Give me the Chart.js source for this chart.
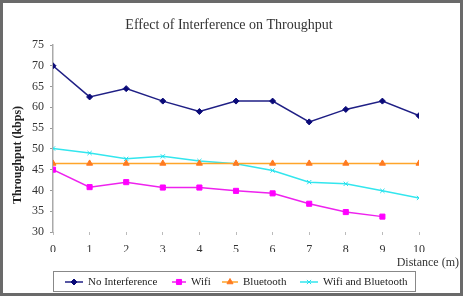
<!DOCTYPE html>
<html>
<head>
<meta charset="utf-8">
<script src="https://cdn.jsdelivr.net/npm/chart.js@4/dist/chart.umd.min.js"></script>
<style>
html,body{margin:0;padding:0;background:#fff;}
#wrap{width:463px;height:296px;position:relative;}
</style>
</head>
<body>
<div id="wrap"><canvas id="c" width="463" height="296"></canvas></div>
<script>
const chartTitle = "Effect of Interference on Throughput";
const xTitle = "Distance (m)";
const yTitle = "Throughput (kbps)";
const distances = [0, 1, 2, 3, 4, 5, 6, 7, 8, 9, 10];
const noInterference = [70, 62.5, 64.5, 61.5, 59, 61.5, 61.5, 56.5, 59.5, 61.5, 58];
const wifi = [45, 40.8, 42, 40.7, 40.7, 39.9, 39.3, 36.8, 34.8, 33.7];
const bluetooth = [46.5, 46.5, 46.5, 46.5, 46.5, 46.5, 46.5, 46.5, 46.5, 46.5, 46.5];
const wifiBluetooth = [50.1, 49, 47.6, 48.2, 47.1, 46.4, 44.8, 42, 41.6, 39.9, 38.2];
const seriesNames = ["No Interference", "Wifi", "Bluetooth", "Wifi and Bluetooth"];
const yTicks = [30, 35, 40, 45, 50, 55, 60, 65, 70, 75];

const FONT = "'Liberation Serif', 'Times New Roman', serif";

function pts(vals){ return vals.map((v,i)=>({x:distances[i], y:v})); }

const styles = [
  {line:'#1f1f85', fill:'#0a0a78', ps:'rectRot', r:3},
  {line:'#ee22ee', fill:'#ff00ff', ps:'rect', r:3.6},
  {line:'#ffa52a', fill:'#ff7a20', ps:'triangle', r:3.5},
  {line:'#33e6ee', fill:'#22e0ee', ps:'crossRot', r:3},
];

const datasets = [noInterference, wifi, bluetooth, wifiBluetooth].map((vals, i)=>({
  label: seriesNames[i],
  data: pts(vals),
  borderColor: styles[i].line,
  backgroundColor: styles[i].fill,
  pointBorderColor: styles[i].fill,
  pointBackgroundColor: styles[i].fill,
  pointStyle: styles[i].ps,
  pointRadius: styles[i].r,
  pointBorderWidth: 1,
  borderWidth: 1.5,
  tension: 0,
}));

const decor = {
  id:'decor',
  afterDraw(chart){
    const ctx = chart.ctx;
    ctx.save();
    // frame
    ctx.strokeStyle = '#6a6a6a';
    ctx.lineWidth = 3;
    ctx.strokeRect(1.5, 1.5, 460, 293);
    // title
    ctx.fillStyle = '#333';
    ctx.font = "14px " + FONT;
    ctx.textAlign = 'center';
    ctx.textBaseline = 'middle';
    ctx.fillText(chartTitle, 229, 25);
    // y title
    ctx.save();
    ctx.translate(18, 155);
    ctx.rotate(-Math.PI/2);
    ctx.font = "bold 12px " + FONT;
    ctx.fillStyle = '#222';
    ctx.fillText(yTitle, 0, 0);
    ctx.restore();
    // x title
    ctx.font = "12px " + FONT;
    ctx.textAlign = 'right';
    ctx.fillStyle = '#333';
    ctx.fillText(xTitle, 459, 263);
    // legend box
    ctx.strokeStyle = '#888';
    ctx.lineWidth = 1;
    ctx.strokeRect(53.5, 271.5, 362, 20);
    const starts = [65, 172, 222, 300];
    const lens = [18, 14, 16, 18];
    ctx.textAlign = 'left';
    ctx.font = "11px " + FONT;
    const y = 282;
    datasets.forEach((ds, i)=>{
      const x0 = starts[i];
      ctx.strokeStyle = ds.borderColor;
      ctx.lineWidth = 1.5;
      ctx.beginPath(); ctx.moveTo(x0, y); ctx.lineTo(x0+lens[i], y); ctx.stroke();
      ctx.fillStyle = ds.pointBackgroundColor;
      ctx.strokeStyle = ds.pointBorderColor;
      ctx.lineWidth = 1;
      Chart.helpers.drawPoint(ctx, {pointStyle: ds.pointStyle, radius: ds.pointRadius, borderWidth:1, rotation:0}, x0+lens[i]/2, y);
      ctx.fillStyle = '#222';
      ctx.fillText(ds.label, x0+lens[i]+5, y);
    });
    ctx.restore();
  }
};

new Chart(document.getElementById('c'), {
  type:'line',
  data:{datasets},
  options:{
    responsive:false,
    animation:false,
    layout:{padding:{left:0, top:45, right:44, bottom:44}},
    plugins:{legend:{display:false}, title:{display:false}, tooltip:{enabled:false}},
    scales:{
      x:{
        type:'linear', min:0, max:10,
        afterFit(s){ s.height = 20; },
        border:{display:false},
        grid:{drawOnChartArea:false, drawTicks:true, tickLength:3, color:'#bbb'},
        ticks:{stepSize:1, padding:8, color:'#333', font:{family:FONT, size:12}}
      },
      y:{
        min:30, max:75,
        afterFit(s){ s.width = 53; },
        afterBuildTicks(s){ s.ticks = yTicks.map(v=>({value:v})); },
        border:{display:true, color:'#aaa', width:1.5},
        grid:{drawOnChartArea:false, drawTicks:true, tickLength:3, color:'#999'},
        ticks:{padding:6, color:'#333', font:{family:FONT, size:12}}
      }
    }
  },
  plugins:[decor]
});
</script>
</body>
</html>
